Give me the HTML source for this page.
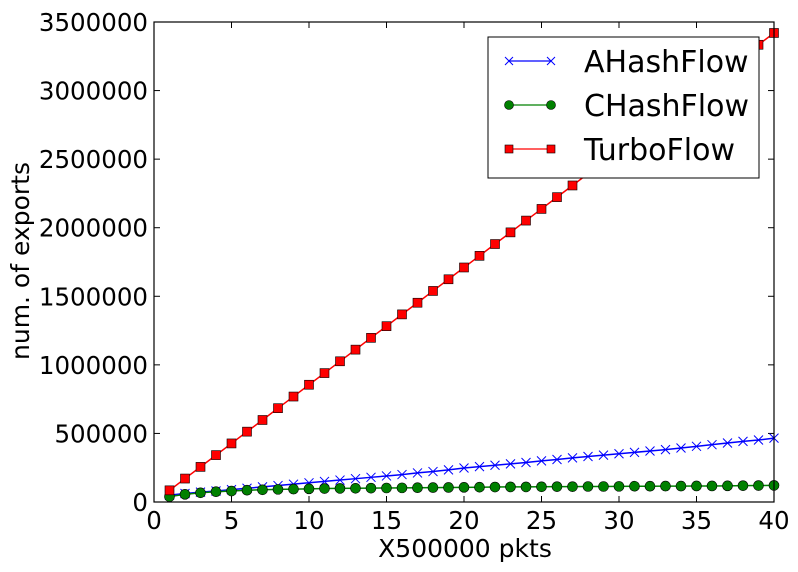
<!DOCTYPE html>
<html><head><meta charset="utf-8"><style>
html,body{margin:0;padding:0;background:#fff;}
svg{display:block;font-family:"DejaVu Sans","Liberation Sans",sans-serif;}
</style></head><body>
<svg id="chart" width="798" height="572" viewBox="0 0 798 572" xmlns="http://www.w3.org/2000/svg">
<g id="ticks"></g>
<g id="series"></g>
<rect x="154" y="22" width="620" height="480" fill="none" stroke="#000" stroke-width="1.2"/>
<text x="465" y="557" font-size="25" text-anchor="middle">X500000 pkts</text>
<text transform="translate(29,261) rotate(-90)" font-size="25" text-anchor="middle">num. of exports</text>
<g>
<rect x="488" y="37" width="271" height="141" fill="#fff" stroke="#000" stroke-width="1"/>
<g>
<line x1="509" y1="61" x2="551" y2="61" stroke="#0000ff" stroke-width="1.2"/>
<path d="M505,57 l8,8 M513,57 l-8,8 M547,57 l8,8 M555,57 l-8,8" stroke="#0000ff" stroke-width="1"/>
<text x="584" y="72" font-size="30">AHashFlow</text></g>
<g>
<line x1="509" y1="105" x2="551" y2="105" stroke="#008000" stroke-width="1.2"/>
<circle cx="509" cy="105" r="4.5" fill="#008000" stroke="#000" stroke-width="0.6"/>
<circle cx="551" cy="105" r="4.5" fill="#008000" stroke="#000" stroke-width="0.6"/>
<text x="584" y="116" font-size="30">CHashFlow</text></g>
<g>
<line x1="509" y1="149" x2="551" y2="149" stroke="#ff0000" stroke-width="1.2"/>
<rect x="505" y="145" width="8" height="8" fill="#ff0000" stroke="#000" stroke-width="0.6"/>
<rect x="547" y="145" width="8" height="8" fill="#ff0000" stroke="#000" stroke-width="0.6"/>
<text x="584" y="160" font-size="30">TurboFlow</text></g>
</g>
</svg>
<script>
const xValues = [1,2,3,4,5,6,7,8,9,10,11,12,13,14,15,16,17,18,19,20,21,22,23,24,25,26,27,28,29,30,31,32,33,34,35,36,37,38,39,40];
const ahashValues = [50000,62000,72000,80000,90000,100000,110000,120000,130000,140000,150000,160000,170000,180000,190000,200000,212000,222000,234000,248000,258000,268000,278000,288000,300000,310000,322000,332000,342000,352000,362000,372000,382000,394000,406000,418000,430000,442000,452000,466000];
const chashValues = [39000,56000,67000,75000,80000,86000,89000,92000,94000,96000,98000,99000,100000,101000,102000,103000,104000,105000,106000,107000,108000,109000,110000,110000,111000,112000,112000,113000,113000,114000,115000,115000,116000,116000,117000,117000,118000,119000,120000,121000];
const turboValues = [85000,171000,256000,342000,427000,513000,598000,684000,769000,855000,940000,1026000,1111000,1197000,1282000,1368000,1453000,1539000,1624000,1710000,1795000,1881000,1966000,2052000,2137000,2223000,2308000,2394000,2479000,2565000,2650000,2736000,2821000,2907000,2992000,3078000,3163000,3249000,3334000,3420000];
const xTicks = [0,5,10,15,20,25,30,35,40];
const yTicks = [0,500000,1000000,1500000,2000000,2500000,3000000,3500000];
const NS="http://www.w3.org/2000/svg";
function sx(v){return 154+v/40*620;}
function sy(v){return 502-v/3500000*480;}
function mk(tag,attrs,parent){const e=document.createElementNS(NS,tag);for(const k in attrs)e.setAttribute(k,attrs[k]);parent.appendChild(e);return e;}
const tg=document.getElementById('ticks');
xTicks.forEach(t=>{
  const x=sx(t);
  const l1=mk('line',{x1:x,y1:502,x2:x,y2:496,stroke:'#000'},tg);
  
  
  const l2=mk('line',{x1:x,y1:22,x2:x,y2:28,stroke:'#000'},tg);
  
  
  const tx=mk('text',{x:x,y:529,'font-size':24.5,'text-anchor':'middle'},tg);
  tx.textContent=t;
  
  
});
yTicks.forEach(t=>{
  const y=sy(t);
  const l1=mk('line',{x1:154,y1:y,x2:160,y2:y,stroke:'#000'},tg);
  
  
  const l2=mk('line',{x1:774,y1:y,x2:768,y2:y,stroke:'#000'},tg);
  
  
  const tx=mk('text',{x:148,y:y+9,'font-size':24.5,'text-anchor':'end'},tg);
  tx.textContent=t;
  
  
});
const sg=document.getElementById('series');
function line(vals,color,name){
  const pts=vals.map((v,i)=>sx(xValues[i])+','+sy(v)).join(' ');
  const p=mk('polyline',{points:pts,fill:'none',stroke:color,'stroke-width':1.5},sg);
  
  
}
line(ahashValues,'#0000ff','ahashflow-line');
ahashValues.forEach((v,i)=>{
  const x=sx(xValues[i]),y=sy(v);
  const p=mk('path',{d:`M${x-4.5},${y-4.5}l9,9M${x+4.5},${y-4.5}l-9,9`,stroke:'#0000ff','stroke-width':1},sg);
  
  
});
line(chashValues,'#008000','chashflow-line');
chashValues.forEach((v,i)=>{
  const c=mk('circle',{cx:sx(xValues[i]),cy:sy(v),r:5,fill:'#008000',stroke:'#000','stroke-width':0.6},sg);
  
  
});
line(turboValues,'#ff0000','turboflow-line');
turboValues.forEach((v,i)=>{
  const r=mk('rect',{x:sx(xValues[i])-4.5,y:sy(v)-4.5,width:9,height:9,fill:'#ff0000',stroke:'#000','stroke-width':0.6},sg);
  
  
});
</script>
</body></html>
